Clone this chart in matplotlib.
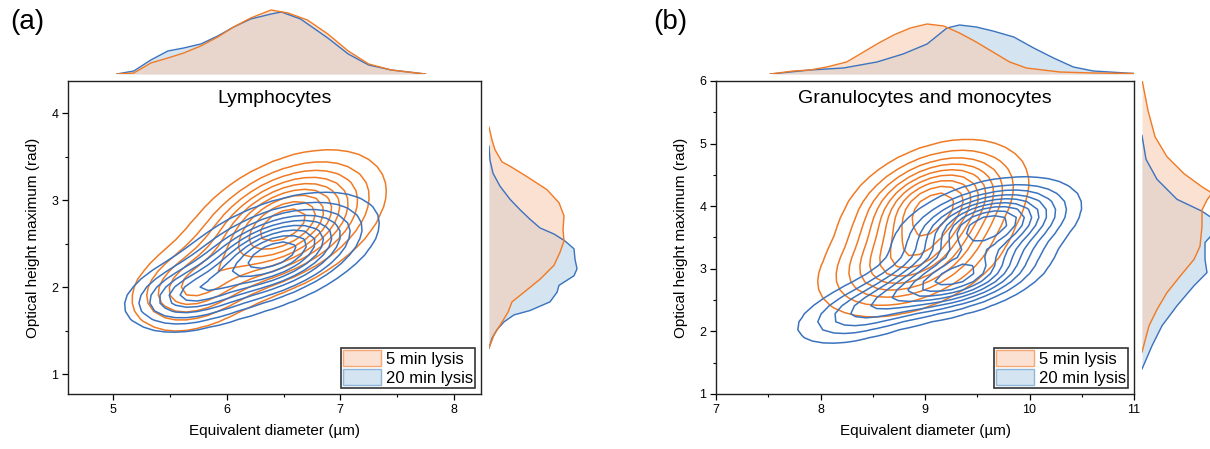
import numpy as np
import matplotlib
matplotlib.use("Agg")
import matplotlib.pyplot as plt
from matplotlib.patches import Patch

plt.rcParams['font.family'] = ['Liberation Sans', 'DejaVu Sans']

ORANGE = '#F07A24'
BLUE = '#3B73BE'
ORANGE_FILL = '#F9CAAD'
BLUE_FILL = '#D4E4F0'

# 2D density components, one row per component:
# mean x, mean y, sd x, sd y, correlation, weight
lym_5min_comps = [
    [6.50, 2.72, 0.42, 0.40, 0.45, 0.80],
    [5.70, 2.00, 0.30, 0.28, 0.30, 0.20],
]
lym_20min_comps = [
    [6.42, 2.38, 0.43, 0.33, 0.50, 0.80],
    [5.65, 1.90, 0.30, 0.22, 0.30, 0.20],
]
gran_5min_comps = [
    [9.10, 4.05, 0.42, 0.48, 0.35, 0.60],
    [8.85, 3.10, 0.45, 0.45, 0.40, 0.40],
]
gran_20min_comps = [
    [9.60, 3.70, 0.42, 0.36, 0.40, 0.48],
    [9.30, 2.85, 0.42, 0.32, 0.45, 0.37],
    [8.45, 2.35, 0.40, 0.32, 0.55, 0.15],
]
# contour levels as fraction of the peak density
contour_levels = [0.10, 0.20, 0.30, 0.40, 0.50, 0.60, 0.70, 0.80, 0.90]

# marginal densities, lymphocytes
lym_top_x_5min = [5.03, 5.18, 5.33, 5.48, 5.62, 5.77, 5.92, 6.06, 6.21, 6.39, 6.54, 6.71, 6.89, 7.07, 7.25, 7.45, 7.75]
lym_top_5min = [0, .01, .11, .16, .21, .28, .37, .47, .56, .64, .61, .54, .40, .23, .10, .04, 0]
lym_top_x_20min = [5.03, 5.18, 5.33, 5.48, 5.62, 5.77, 5.92, 6.06, 6.21, 6.39, 6.48, 6.65, 6.89, 7.07, 7.25, 7.45, 7.75]
lym_top_20min = [0, .03, .14, .23, .26, .30, .38, .47, .55, .60, .62, .55, .36, .20, .09, .04, 0]

lym_right_y_5min = [3.84, 3.69, 3.58, 3.44, 3.39, 3.27, 3.12, 2.97, 2.82, 2.66, 2.53, 2.40, 2.25,
                    2.09, 1.94, 1.83, 1.71, 1.56, 1.45, 1.30]
lym_right_5min = [0, .03, .06, .13, .21, .38, .58, .70, .75, .74, .75, .71, .65,
                  .51, .35, .23, .19, .11, .05, 0]
lym_right_y_20min = [3.62, 3.46, 3.31, 3.16, 3.01, 2.89, 2.78, 2.68, 2.61, 2.53, 2.44, 2.32, 2.21,
                     2.13, 2.02, 1.94, 1.83, 1.73, 1.68, 1.60, 1.51, 1.41, 1.30]
lym_right_20min = [0, .01, .04, .11, .21, .31, .41, .51, .65, .76, .85, .86, .88,
                   .85, .70, .68, .61, .41, .25, .15, .08, .03, 0]

# marginal densities, granulocytes and monocytes
gran_top_x_5min = [7.52, 7.74, 7.90, 8.06, 8.25, 8.38, 8.54, 8.70, 8.86, 9.02, 9.18, 9.33, 9.49,
                   9.65, 9.81, 9.97, 10.29, 10.61, 11.0]
gran_top_5min = [0, .03, .04, .07, .12, .20, .30, .39, .46, .50, .48, .41, .32,
                 .22, .12, .06, .02, .01, .005]
gran_top_x_20min = [7.52, 7.90, 8.22, 8.54, 8.79, 9.02, 9.21, 9.33, 9.49, 9.65, 9.85, 10.04,
                    10.23, 10.42, 10.61, 11.0]
gran_top_20min = [0, .04, .06, .12, .20, .30, .46, .49, .47, .43, .37, .26,
                  .16, .07, .03, .005]

gran_right_y_5min = [6.02, 5.53, 5.11, 4.79, 4.52, 4.31, 4.21, 4.10, 3.94, 3.68, 3.36, 3.15,
                     2.88, 2.62, 2.35, 2.09, 1.67]
gran_right_5min = [0, .06, .13, .25, .42, .60, .70, .65, .60, .60, .58, .52,
                   .38, .25, .15, .07, 0]
gran_right_y_20min = [5.13, 4.75, 4.43, 4.11, 3.92, 3.79, 3.58, 3.42, 3.15, 2.94, 2.73, 2.41,
                      2.09, 1.77, 1.40]
gran_right_20min = [0, .04, .15, .35, .60, .72, .72, .63, .63, .65, .52, .35,
                    .20, .10, 0]


def mixture_density(comps, xx, yy):
    z = np.zeros_like(xx)
    for mx, my, sx, sy, rho, w in comps:
        dx = (xx - mx) / sx
        dy = (yy - my) / sy
        q = (dx**2 - 2 * rho * dx * dy + dy**2) / (1 - rho**2)
        z += w * np.exp(-q / 2) / (2 * np.pi * sx * sy * np.sqrt(1 - rho**2))
    return z


def draw_contours(ax, comps, color, xr, yr):
    # coarse grid, like a binned KDE
    xx, yy = np.meshgrid(np.linspace(xr[0], xr[1], 40), np.linspace(yr[0], yr[1], 40))
    z = mixture_density(comps, xx, yy)
    ax.contour(xx, yy, z, levels=np.array(contour_levels) * z.max(),
               colors=color, linewidths=1.1)


def style_main(ax):
    for s in ax.spines.values():
        s.set_linewidth(1.0)
        s.set_color('#222222')
    ax.tick_params(which='major', direction='out', length=4, width=0.9, labelsize=9, pad=3)
    ax.tick_params(which='minor', direction='out', length=2.5, width=0.8)
    ax.set_xlabel('Equivalent diameter (µm)', fontsize=11, labelpad=6)
    ax.set_ylabel('Optical height maximum (rad)', fontsize=11, labelpad=8)
    handles = [Patch(facecolor='#FBE1D1', edgecolor='#F4A876', label='5 min lysis'),
               Patch(facecolor=BLUE_FILL, edgecolor='#8DB6DA', label='20 min lysis')]
    leg = ax.legend(handles=handles, loc='lower right', fontsize=12, frameon=True,
                    fancybox=False, framealpha=1, borderpad=0.15, labelspacing=0.12,
                    handlelength=2.25, handleheight=1.1, handletextpad=0.3,
                    borderaxespad=0.35)
    leg.get_frame().set_edgecolor('#333333')
    leg.get_frame().set_linewidth(1.2)


def draw_top(ax, x5, v5, x20, v20, xlim):
    ax.fill_between(x20, v20, color=BLUE_FILL, lw=0)
    ax.plot(x20, v20, color=BLUE, lw=1.0)
    ax.fill_between(x5, v5, color=ORANGE_FILL, alpha=0.55, lw=0)
    ax.plot(x5, v5, color=ORANGE, lw=1.0)
    ax.set_xlim(xlim)
    ax.set_ylim(0, 0.74)
    ax.axis('off')


def draw_right(ax, y5, v5, y20, v20, ylim):
    ax.fill_betweenx(y20, v20, color=BLUE_FILL, lw=0)
    ax.plot(v20, y20, color=BLUE, lw=1.0)
    ax.fill_betweenx(y5, v5, color=ORANGE_FILL, alpha=0.55, lw=0)
    ax.plot(v5, y5, color=ORANGE, lw=1.0)
    ax.set_ylim(ylim)
    ax.set_xlim(0, 1.10)
    ax.axis('off')


def main():
    fig = plt.figure(figsize=(12.1, 4.49), dpi=100)

    # (a) lymphocytes
    xlim_a, ylim_a = (4.6, 8.24), (0.77, 4.37)
    ax_a = fig.add_axes([68 / 1210, 55 / 449, 413 / 1210, 313 / 449])
    draw_contours(ax_a, lym_5min_comps, ORANGE, (4.6, 8.3), (0.8, 4.4))
    draw_contours(ax_a, lym_20min_comps, BLUE, (4.6, 8.3), (0.8, 4.4))
    ax_a.set_xlim(xlim_a)
    ax_a.set_ylim(ylim_a)
    ax_a.set_xticks([5, 6, 7, 8])
    ax_a.set_xticks([5.5, 6.5, 7.5], minor=True)
    ax_a.set_yticks([1, 2, 3, 4])
    ax_a.set_yticks([1.5, 2.5, 3.5], minor=True)
    ax_a.text(0.5, 0.945, 'Lymphocytes', transform=ax_a.transAxes,
              ha='center', va='center', fontsize=14)
    style_main(ax_a)

    top_a = fig.add_axes([68 / 1210, 375 / 449, 413 / 1210, 74 / 449])
    draw_top(top_a, lym_top_x_5min, lym_top_5min, lym_top_x_20min, lym_top_20min, xlim_a)
    right_a = fig.add_axes([489 / 1210, 55 / 449, 110 / 1210, 313 / 449])
    draw_right(right_a, lym_right_y_5min, lym_right_5min,
               lym_right_y_20min, lym_right_20min, ylim_a)

    # (b) granulocytes and monocytes
    xlim_b, ylim_b = (7, 11), (1, 6)
    ax_b = fig.add_axes([716 / 1210, 55 / 449, 418 / 1210, 313 / 449])
    draw_contours(ax_b, gran_5min_comps, ORANGE, (7, 11), (1, 6))
    draw_contours(ax_b, gran_20min_comps, BLUE, (7, 11), (1, 6))
    ax_b.set_xlim(xlim_b)
    ax_b.set_ylim(ylim_b)
    ax_b.set_xticks([7, 8, 9, 10, 11])
    ax_b.set_xticks([7.5, 8.5, 9.5, 10.5], minor=True)
    ax_b.set_yticks([1, 2, 3, 4, 5, 6])
    ax_b.set_yticks([1.5, 2.5, 3.5, 4.5, 5.5], minor=True)
    ax_b.text(0.5, 0.945, 'Granulocytes and monocytes', transform=ax_b.transAxes,
              ha='center', va='center', fontsize=14)
    style_main(ax_b)

    top_b = fig.add_axes([716 / 1210, 375 / 449, 418 / 1210, 74 / 449])
    draw_top(top_b, gran_top_x_5min, gran_top_5min, gran_top_x_20min, gran_top_20min, xlim_b)
    right_b = fig.add_axes([1142 / 1210, 55 / 449, 110 / 1210, 313 / 449])
    draw_right(right_b, gran_right_y_5min, gran_right_5min,
               gran_right_y_20min, gran_right_20min, ylim_b)

    fig.text(27 / 1210, 1 - 22 / 449, '(a)', ha='center', va='center', fontsize=20)
    fig.text(670 / 1210, 1 - 22 / 449, '(b)', ha='center', va='center', fontsize=20)

    fig.savefig('out.png', dpi=100)


if __name__ == "__main__":
    main()
